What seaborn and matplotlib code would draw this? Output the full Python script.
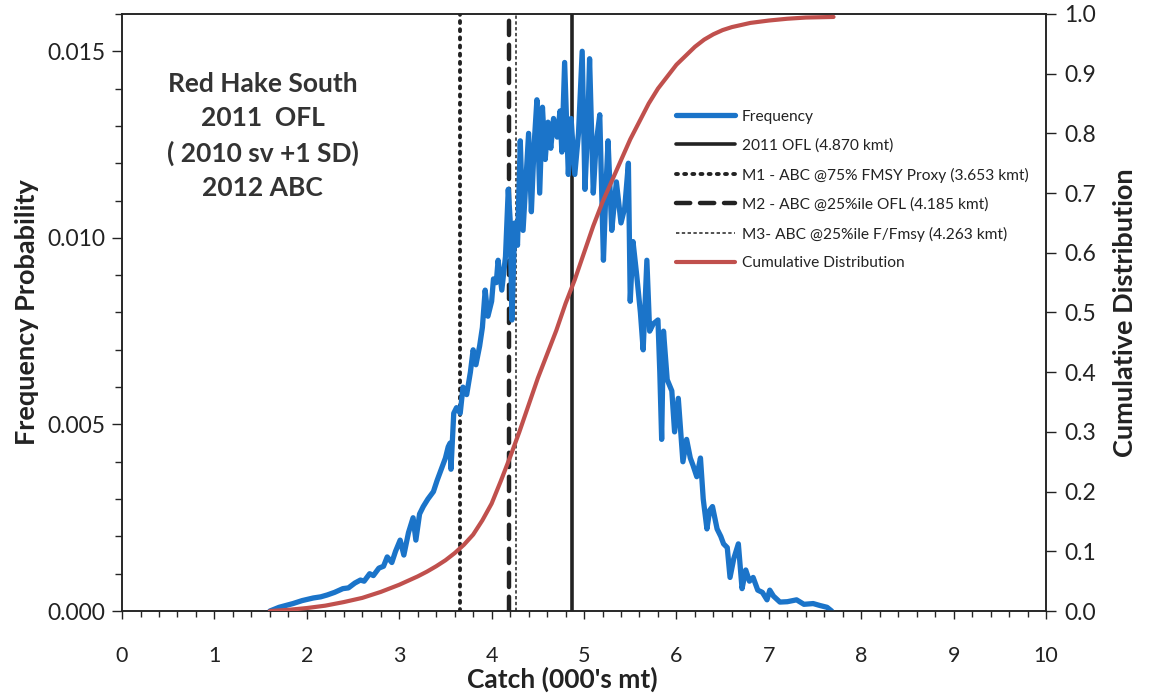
import matplotlib
matplotlib.use("Agg")
import matplotlib.pyplot as plt
from matplotlib.ticker import MultipleLocator, FormatStrFormatter
from matplotlib.lines import Line2D
import seaborn as sns
import pandas as pd

# ---------------- data ----------------
freq_x = [1.60, 1.70, 1.85, 1.95, 2.07, 2.15, 2.22, 2.30, 2.39, 2.45, 2.52, 2.58, 2.62, 2.68,
          2.72, 2.78, 2.83, 2.87, 2.92, 2.96, 3.01, 3.05, 3.10, 3.15, 3.18, 3.22, 3.26, 3.31,
          3.37, 3.41, 3.44, 3.50, 3.53, 3.55, 3.56, 3.59, 3.62, 3.66, 3.69, 3.73, 3.77, 3.80,
          3.83, 3.87, 3.90, 3.93, 3.96, 4.00, 4.02, 4.05, 4.07, 4.11, 4.15, 4.18, 4.20, 4.22,
          4.25, 4.28, 4.31, 4.34, 4.37, 4.40, 4.43, 4.46, 4.49, 4.52, 4.55, 4.58, 4.61, 4.64,
          4.67, 4.71, 4.74, 4.76, 4.79, 4.83, 4.86, 4.90, 4.94, 4.98, 5.01, 5.04, 5.06, 5.10,
          5.13, 5.17, 5.21, 5.24, 5.26, 5.30, 5.33, 5.35, 5.40, 5.44, 5.48, 5.50, 5.53, 5.57,
          5.61, 5.64, 5.68, 5.71, 5.75, 5.80, 5.82, 5.84, 5.86, 5.90, 5.95, 5.98, 6.02, 6.07,
          6.11, 6.15, 6.18, 6.22, 6.26, 6.29, 6.33, 6.36, 6.39, 6.44, 6.48, 6.51, 6.55, 6.58,
          6.62, 6.67, 6.71, 6.75, 6.79, 6.83, 6.88, 6.93, 6.98, 7.01, 7.05, 7.12, 7.20, 7.30,
          7.38, 7.48, 7.55, 7.63, 7.68]
freq_p = [0.0, 0.0001, 0.0002, 0.00028, 0.00035, 0.00038, 0.00043, 0.0005, 0.0006, 0.00062,
          0.00075, 0.00083, 0.0008, 0.001, 0.00095, 0.00115, 0.0012, 0.00145, 0.0013, 0.0016,
          0.0019, 0.0015, 0.0021, 0.0025, 0.0019, 0.0026, 0.0028, 0.003, 0.0032, 0.0035,
          0.0037, 0.0041, 0.0044, 0.0045, 0.0038, 0.0053, 0.00545, 0.0053, 0.006, 0.0058,
          0.0064, 0.007, 0.0066, 0.0071, 0.0076, 0.0086, 0.0079, 0.0083, 0.0089, 0.0088,
          0.0094, 0.0086, 0.0095, 0.0113, 0.0105, 0.0078, 0.0104, 0.0098, 0.0126, 0.0102,
          0.0115, 0.0128, 0.0107, 0.0125, 0.0137, 0.0112, 0.0135, 0.0121, 0.0131, 0.0124,
          0.0132, 0.0127, 0.0134, 0.0123, 0.0147, 0.0117, 0.0132, 0.0117, 0.0128, 0.0150,
          0.0113, 0.0130, 0.0148, 0.0112, 0.0125, 0.0133, 0.0094, 0.0115, 0.0126, 0.0102,
          0.0110, 0.0115, 0.0104, 0.0108, 0.0120, 0.0083, 0.0099, 0.0090, 0.0080, 0.0070,
          0.0094, 0.0075, 0.0077, 0.0078, 0.0064, 0.0046, 0.0075, 0.0062, 0.0059, 0.0048,
          0.0057, 0.0040, 0.0046, 0.0041, 0.0039, 0.0036, 0.0041, 0.0030, 0.0022, 0.0027,
          0.0028, 0.0022, 0.0020, 0.0018, 0.0017, 0.0009, 0.0014, 0.0018, 0.0006, 0.0011,
          0.0008, 0.0009, 0.00056, 0.0005, 0.0003, 0.00056, 0.0004, 0.00024, 0.00025, 0.0003,
          0.00018, 0.0002, 0.00015, 0.0001, 0.0]

cum_x = [1.6, 1.8, 2.0, 2.2, 2.4, 2.6, 2.8, 3.0, 3.2, 3.3, 3.4, 3.5, 3.6, 3.7, 3.8, 3.9, 4.0,
         4.1, 4.2, 4.3, 4.4, 4.5, 4.6, 4.7, 4.8, 4.9, 5.0, 5.1, 5.2, 5.3, 5.4, 5.5, 5.6,
         5.7, 5.8, 5.9, 6.0, 6.1, 6.2, 6.3, 6.4, 6.5, 6.6, 6.8, 7.0, 7.2, 7.4, 7.7]
cum_p = [0.0, 0.002, 0.005, 0.009, 0.015, 0.022, 0.032, 0.044, 0.058, 0.066, 0.075, 0.085,
         0.097, 0.111, 0.128, 0.152, 0.18, 0.218, 0.258, 0.30, 0.345, 0.39, 0.43, 0.47,
         0.515, 0.555, 0.60, 0.645, 0.685, 0.72, 0.755, 0.79, 0.82, 0.85, 0.875, 0.895,
         0.915, 0.93, 0.945, 0.957, 0.966, 0.973, 0.978, 0.985, 0.989, 0.992, 0.994, 0.995]

ref_values = [4.870, 3.653, 4.185, 4.263]
ref_labels = ["2011 OFL (4.870 kmt)",
              "M1 - ABC @75% FMSY Proxy (3.653 kmt)",
              "M2 - ABC @25%ile OFL (4.185 kmt)",
              "M3- ABC @25%ile F/Fmsy (4.263 kmt)"]

x_ticks = list(range(0, 11))
left_ticks = [0.000, 0.005, 0.010, 0.015]
right_ticks = [round(0.1 * i, 1) for i in range(11)]

annotation = "Red Hake South\n2011  OFL\n( 2010 sv +1 SD)\n2012 ABC"

# ---------------- style ----------------
sns.set_theme(style="ticks")
plt.rcParams['font.family'] = ['Lato', 'DejaVu Sans']

BLUE = "#1b74c9"
RED = "#c0504d"
DARK = "#222222"

fig = plt.figure(figsize=(11.49, 6.98), dpi=100)
ax = fig.add_axes([0.1062, 0.1246, 0.8042, 0.8554])
ax2 = ax.twinx()

df_f = pd.DataFrame({"x": freq_x, "p": freq_p})
df_c = pd.DataFrame({"x": cum_x, "p": cum_p})

sns.lineplot(data=df_f, x="x", y="p", ax=ax, color=BLUE, lw=3.8, sort=False, zorder=3)
sns.lineplot(data=df_c, x="x", y="p", ax=ax2, color=RED, lw=3.0, sort=False, zorder=3)

styles = [
    dict(color=DARK, lw=2.6, ls="-"),
    dict(color=DARK, lw=2.8, ls=(0, (0.5, 1.6)), dash_capstyle="round"),
    dict(color=DARK, lw=3.2, ls=(0, (3.2, 2.2)), dash_capstyle="round"),
    dict(color=DARK, lw=1.1, ls=(0, (2.2, 1.6))),
]
for v, st in zip(ref_values, styles):
    ax.axvline(v, zorder=2, **st)

ax.set_xlim(0, 10)
ax.set_ylim(0, 0.016)
ax2.set_ylim(0, 1.0)

ax.set_xticks(x_ticks)
ax.xaxis.set_minor_locator(MultipleLocator(0.2))
ax.set_yticks(left_ticks)
ax.yaxis.set_minor_locator(MultipleLocator(0.001))
ax.yaxis.set_major_formatter(FormatStrFormatter("%.3f"))
ax2.set_yticks(right_ticks)
ax2.yaxis.set_major_formatter(FormatStrFormatter("%.1f"))

ax.tick_params(axis="x", which="major", direction="out", length=6, width=1, pad=19,
               labelsize=15.5, colors="#222222")
ax.tick_params(axis="x", which="minor", direction="out", length=4, width=1)
ax.tick_params(axis="y", which="major", direction="out", length=7, width=1, pad=5,
               labelsize=16.5, colors="#222222")
ax.tick_params(axis="y", which="minor", direction="out", length=5, width=1)
ax2.tick_params(axis="y", which="major", direction="out", length=7, width=1, pad=6,
                labelsize=16.5, colors="#222222")

for a in (ax, ax2):
    for s in a.spines.values():
        s.set_visible(True)
        s.set_color("#222222")
        s.set_linewidth(1.1)

ax.set_xlabel("Catch (000's mt)", fontsize=19, fontweight="bold", color="#222222")
ax.xaxis.set_label_coords(0.476, -0.094)
ax.set_ylabel("Frequency Probability", fontsize=19.5, fontweight="bold", color="#222222", labelpad=6)
ax2.set_ylabel("Cumulative Distribution", fontsize=19.5, fontweight="bold", color="#222222",
               labelpad=12, rotation=90)

ax.text(0.152, 0.795, annotation, transform=ax.transAxes, ha="center", va="center",
        fontsize=19, fontweight="bold", color="#333333", linespacing=1.5)

handles = [Line2D([], [], color=BLUE, lw=3.8)]
for st in styles:
    handles.append(Line2D([], [], **st))
handles.append(Line2D([], [], color=RED, lw=3.0))
labels = ["Frequency"] + ref_labels + ["Cumulative Distribution"]
leg = ax2.legend(handles, labels, loc="upper left", bbox_to_anchor=(0.584, 0.863),
                 frameon=False, fontsize=11.2, handlelength=3.8, labelspacing=0.95,
                 handletextpad=0.45)
for t in leg.get_texts():
    t.set_color("#222222")

fig.savefig("out.png", dpi=100)
